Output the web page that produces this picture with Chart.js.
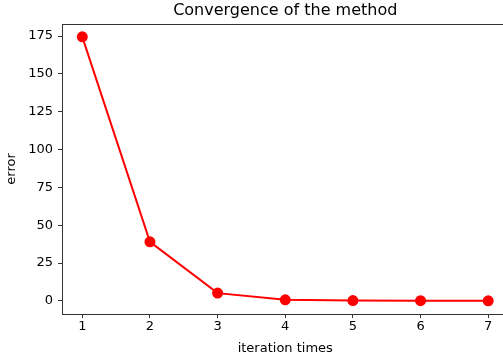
<!DOCTYPE html>
<html>
<head>
<meta charset="utf-8">
<script src="https://cdn.jsdelivr.net/npm/chart.js@4"></script>
<style>
  html, body { margin: 0; padding: 0; background: #fff; overflow: hidden; }
  canvas { display: block; }
</style>
</head>
<body>
<canvas id="myChart" width="515" height="360"></canvas>
<script>
// values
const iterations = [1, 2, 3, 4, 5, 6, 7];
const errors = [174.5, 39, 5.1, 0.7, 0.2, 0.08, 0.03];
const yTickValues = [0, 25, 50, 75, 100, 125, 150, 175];

const titleText = 'Convergence of the method';
const xTitle = 'iteration times';
const yTitle = 'error';

const spineColor = '#333';

// matplotlib style box round the plot
const frame = {
    id: 'frame',
    afterDraw: (chart) => {
        const { ctx, chartArea } = chart;
        ctx.save();
        ctx.strokeStyle = spineColor;
        ctx.lineWidth = 1;
        ctx.strokeRect(chartArea.left + 0.5, chartArea.top + 0.5,
            chartArea.right - chartArea.left - 1, chartArea.bottom - chartArea.top);
        ctx.restore();
    }
};

Chart.defaults.font.family = '"DejaVu Sans", sans-serif';
Chart.defaults.color = '#000';

const renderChart = () => {
    const config = {
        type: 'line',
        data: {
            datasets: [{
                data: iterations.map((it, i) => ({ x: it, y: errors[i] })),
                borderColor: '#ff0000',
                backgroundColor: '#ff0000',
                borderWidth: 2,
                pointRadius: 4.5,
                pointHoverRadius: 4.5,
                tension: 0
            }]
        },
        options: {
            responsive: false,
            animation: false,
            layout: { padding: { left: 0, right: 6, top: 0, bottom: 0 } },
            plugins: {
                legend: { display: false },
                tooltip: { enabled: false },
                title: {
                    display: true,
                    text: titleText,
                    fullSize: false,
                    color: '#000',
                    font: { size: 16, weight: 'normal', lineHeight: 1.2 },
                    padding: { top: 1, bottom: 3.8 }
                }
            },
            scales: {
                x: {
                    type: 'linear',
                    min: 0.7,
                    max: 7.3,
                    afterBuildTicks: axis => { axis.ticks = iterations.map(v => ({ value: v })); },
                    afterFit: scale => { scale.height = 46; },
                    border: { display: false },
                    grid: { drawOnChartArea: false, drawTicks: true, tickLength: 4, color: spineColor },
                    ticks: { font: { size: 13 }, padding: 1, maxRotation: 0 },
                    title: { display: true, text: xTitle, font: { size: 13 }, padding: { top: 0, bottom: 4 } }
                },
                y: {
                    type: 'linear',
                    min: -8.7,
                    max: 183,
                    afterBuildTicks: axis => { axis.ticks = yTickValues.map(v => ({ value: v })); },
                    afterFit: scale => { scale.width = 62; },
                    border: { display: false },
                    grid: { drawOnChartArea: false, drawTicks: true, tickLength: 4, color: spineColor },
                    ticks: { font: { size: 13 }, padding: 5 },
                    title: { display: true, text: yTitle, font: { size: 13 }, padding: { top: 4, bottom: 0 } }
                }
            }
        },
        plugins: [frame]
    };

    const ctx = document.getElementById('myChart').getContext('2d');
    new Chart(ctx, config);
};

renderChart();
</script>
</body>
</html>
